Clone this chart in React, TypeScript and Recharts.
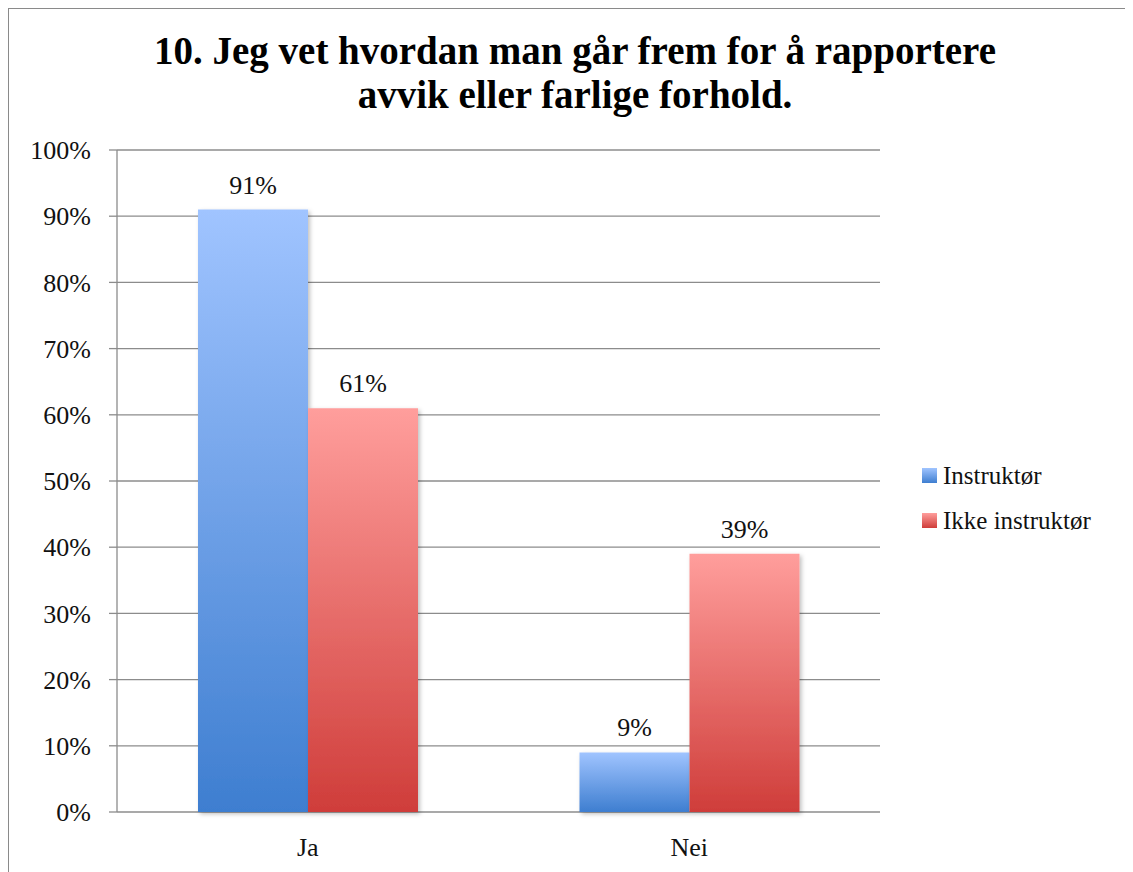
import React from 'react';
import { BarChart, Bar, XAxis, YAxis, CartesianGrid, LabelList } from 'recharts';

// Survey answers per group, in percent
const categories = ['Ja', 'Nei'];
const instruktor = [91, 9];
const ikkeInstruktor = [61, 39];
const yTicks = [0, 10, 20, 30, 40, 50, 60, 70, 80, 90, 100];
const edgeTicks = [0, 1, 2];
const seriesNames = ['Instruktør', 'Ikke instruktør'];
const titleLines = ['10. Jeg vet hvordan man går frem for å rapportere', 'avvik eller farlige forhold.'];

const data = categories.map((c, i) => ({
  name: c,
  idx: i + 0.5,
  instruktor: instruktor[i],
  ikke: ikkeInstruktor[i],
}));

const FONT = '"Liberation Serif", "DejaVu Serif", serif';
const GRID = '#8c8c8c';
const TEXT = '#111';

const legendItems = [
  { label: seriesNames[0], top: '#a0c4ff', bottom: '#3e7ed0' },
  { label: seriesNames[1], top: '#ff9e9c', bottom: '#cf3d3a' },
];

function LegendBox() {
  return (
    <div
      style={{
        position: 'absolute',
        left: 913,
        top: 444,
        fontFamily: FONT,
        fontSize: 25,
        color: TEXT,
      }}
    >
      {legendItems.map((it) => (
        <div key={it.label} style={{ display: 'flex', alignItems: 'center', height: 45 }}>
          <div
            style={{
              width: 15,
              height: 15,
              marginRight: 6,
              background: `linear-gradient(${it.top}, ${it.bottom})`,
            }}
          />
          <span>{it.label}</span>
        </div>
      ))}
    </div>
  );
}

export default function App() {
  const W = 1124;
  const H = 863;
  return (
    <div
      style={{
        position: 'relative',
        width: W,
        height: H,
        borderTop: '1px solid #8a8a8a',
        borderLeft: '1px solid #8a8a8a',
        background: '#fff',
      }}
    >
      <svg
        width={W}
        height={130}
        style={{ position: 'absolute', left: 0, top: 0, pointerEvents: 'none' }}
      >
        {titleLines.map((t, i) => (
          <text
            key={t}
            x={566}
            y={55 + i * 44}
            textAnchor="middle"
            fontFamily={FONT}
            fontWeight="bold"
            fontSize={39}
            fill="#000"
          >
            {t}
          </text>
        ))}
      </svg>
      <BarChart
        width={W}
        height={H}
        data={data}
        margin={{ top: 141, right: 253, bottom: 0, left: 0 }}
        barGap={0}
        barSize={110}
      >
        <defs>
          <linearGradient id="gradBlue" x1="0" y1="0" x2="0" y2="1">
            <stop offset="0%" stopColor="#a0c4ff" />
            <stop offset="100%" stopColor="#3e7ed0" />
          </linearGradient>
          <linearGradient id="gradRed" x1="0" y1="0" x2="0" y2="1">
            <stop offset="0%" stopColor="#ff9e9c" />
            <stop offset="100%" stopColor="#cf3d3a" />
          </linearGradient>
          <filter id="barShadow" x="-10%" y="-10%" width="130%" height="130%">
            <feDropShadow dx="2" dy="2" stdDeviation="2" floodColor="#000" floodOpacity="0.25" />
          </filter>
        </defs>
        <CartesianGrid horizontal vertical={false} stroke={GRID} strokeWidth={1.3} />
        <XAxis
          xAxisId="edges"
          dataKey="idx"
          type="number"
          domain={[0, 2]}
          ticks={edgeTicks}
          height={0}
          tick={false}
          tickSize={8}
          axisLine={{ stroke: GRID, strokeWidth: 1.3 }}
          tickLine={{ stroke: GRID, strokeWidth: 1.3 }}
        />
        <XAxis
          dataKey="name"
          height={60}
          axisLine={false}
          tickLine={false}
          tickSize={0}
          tickMargin={26}
          tick={{ fill: TEXT, fontFamily: FONT, fontSize: 26 }}
        />
        <YAxis
          domain={[0, 100]}
          ticks={yTicks}
          width={108}
          tickFormatter={(v) => `${v}%`}
          axisLine={{ stroke: GRID, strokeWidth: 1.3 }}
          tickLine={{ stroke: GRID, strokeWidth: 1.3 }}
          tickSize={8}
          tickMargin={18}
          tick={{ fill: TEXT, fontFamily: FONT, fontSize: 26 }}
          interval={0}
        />
        <Bar dataKey="instruktor" name={seriesNames[0]} fill="url(#gradBlue)" filter="url(#barShadow)" isAnimationActive={false}>
          <LabelList
            dataKey="instruktor"
            position="top"
            offset={16}
            formatter={(v) => `${v}%`}
            style={{ fill: TEXT, fontFamily: FONT, fontSize: 26 }}
          />
        </Bar>
        <Bar dataKey="ikke" name={seriesNames[1]} fill="url(#gradRed)" filter="url(#barShadow)" isAnimationActive={false}>
          <LabelList
            dataKey="ikke"
            position="top"
            offset={16}
            formatter={(v) => `${v}%`}
            style={{ fill: TEXT, fontFamily: FONT, fontSize: 26 }}
          />
        </Bar>
      </BarChart>
      <LegendBox />
    </div>
  );
}
